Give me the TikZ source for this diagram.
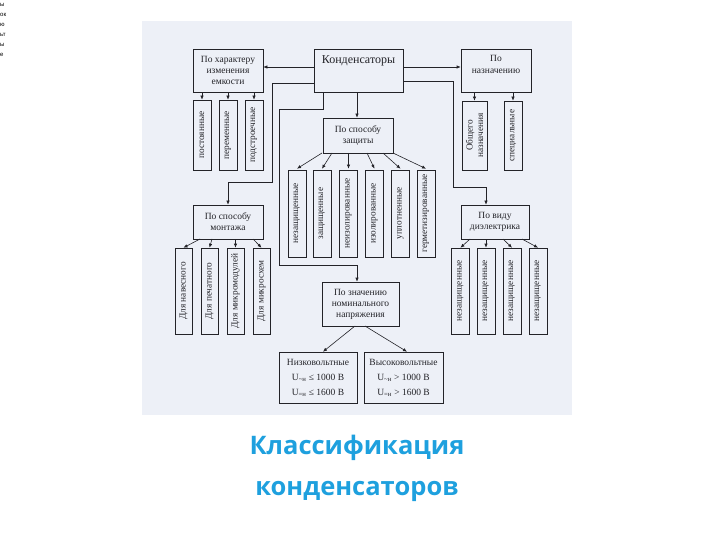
\documentclass[tikz,border=0pt]{standalone}
\usepackage{fontspec}
\setmainfont{Liberation Serif}
\newfontfamily\titlefont{Open Sans}
\newfontfamily\cornerfont{Liberation Sans}
\usetikzlibrary{arrows.meta,calc}
\definecolor{scanbg}{RGB}{237,240,247}
\definecolor{ink}{RGB}{35,35,40}
\definecolor{titleblue}{RGB}{30,160,222}
\begin{document}
\begin{tikzpicture}[x=1pt,y=-1pt,
  box/.style={draw=ink, line width=0.6pt, align=center, inner sep=1pt, font=\fontsize{9.5}{11}\selectfont, text=ink},
  vbox/.style={draw=ink, line width=0.6pt, rotate=90, align=center, inner sep=1pt, minimum height=18pt, font=\fontsize{9.3}{9.5}\selectfont, text=ink},
  arr/.style={draw=ink, line width=0.6pt, -{Latex[length=4pt,width=3.4pt]}},
  corner/.style={anchor=west, inner sep=0pt, font=\cornerfont\fontsize{6}{6}\selectfont, text=black},
  titletext/.style={anchor=base, font=\titlefont\bfseries\fontsize{25.5}{28}\selectfont, text=titleblue}]
\useasboundingbox (0,0) rectangle (720,540);
\fill[scanbg] (142,21) rectangle (572,415);

% corner fragments
\node[corner] (c1) at (0,5) {ы};
\node[corner] (c2) at (0,15) {ок};
\node[corner] (c3) at (0,25) {ю};
\node[corner] (c4) at (0,35) {ьт};
\node[corner] (c5) at (0,45) {ы};
\node[corner] (c6) at (0,55) {е};

% top row
\node[box, minimum width=89pt, minimum height=43pt] (kond) at (358.5,70.5) {};
\node[font=\fontsize{12}{14}\selectfont, text=ink] (kondt) at (358.5,61) {Конденсаторы};
\node[box, minimum width=70pt, minimum height=43pt] (har) at (228,70.5) {По характеру\\изменения\\емкости};
\node[box, minimum width=70pt, minimum height=43pt] (nazn) at (496,70.5) {};
\node[font=\fontsize{9.5}{12}\selectfont, text=ink, align=center] (naznt) at (496,64) {По\\назначению};

% capacitance children
\node[vbox, minimum width=70pt] (h1) at (202,135) {постоянные};
\node[vbox, minimum width=70pt] (h2) at (228,135) {переменные};
\node[vbox, minimum width=70pt] (h3) at (254,135) {подстроечные};

% purpose children
\node[vbox, minimum width=69pt, minimum height=25pt, font=\fontsize{9.3}{10.5}\selectfont] (n1) at (474.5,135.5) {Общего\\назначения};
\node[vbox, minimum width=69pt] (n2) at (513,135.5) {специальные};

% protection
\node[box, minimum width=70pt, minimum height=35pt] (zash) at (358,135.5) {По способу\\защиты};
\node[vbox, minimum width=87pt] (z1) at (297,213.5) {незащищенные};
\node[vbox, minimum width=87pt] (z2) at (322,213.5) {защищенные};
\node[vbox, minimum width=87pt] (z3) at (348.5,213.5) {неизолированные};
\node[vbox, minimum width=87pt] (z4) at (374.5,213.5) {изолированные};
\node[vbox, minimum width=87pt] (z5) at (400.5,213.5) {уплотненные};
\node[vbox, minimum width=87pt] (z6) at (426,213.5) {герметизированные};

% mounting
\node[box, minimum width=70pt, minimum height=34pt] (mont) at (228,222) {По способу\\монтажа};
\node[vbox, minimum width=86pt, minimum height=17pt] (m1) at (183.5,291) {Для навесного};
\node[vbox, minimum width=86pt, minimum height=17pt] (m2) at (209.5,291) {Для печатного};
\node[vbox, minimum width=86pt, minimum height=17pt] (m3) at (235.5,291) {Для микромодулей};
\node[vbox, minimum width=86pt, minimum height=17pt] (m4) at (261.5,291) {Для микросхем};

% dielectric
\node[box, minimum width=68pt, minimum height=34pt] (diel) at (495,222) {По виду\\диэлектрика};
\node[vbox, minimum width=86pt] (d1) at (460.5,291) {незащищенные};
\node[vbox, minimum width=86pt] (d2) at (486,291) {незащищенные};
\node[vbox, minimum width=86pt] (d3) at (512,291) {незащищенные};
\node[vbox, minimum width=86pt] (d4) at (538,291) {незащищенные};

% rated voltage
\node[box, minimum width=77pt, minimum height=44pt] (nom) at (360.5,304) {По значению\\номинального\\напряжения};
\node[box, minimum width=78pt, minimum height=51pt] (low) at (318,377.5) {Низковольтные\\[4pt] U\textsubscript{\textasciitilde н} ≤ 1000 В\\[4pt] U\textsubscript{=н} ≤ 1600 В};
\node[box, minimum width=79pt, minimum height=51pt] (high) at (403.5,377.5) {Высоковольтные\\[4pt] U\textsubscript{\textasciitilde н} > 1000 В\\[4pt] U\textsubscript{=н} > 1600 В};

% main connectors
\draw[arr] ([yshift=3.5pt]kond.west) -- ([yshift=3.5pt]har.east);
\draw[arr] ([yshift=3.5pt]kond.east) -- ([yshift=3.5pt]nazn.west);
\draw[arr] ([xshift=-1.5pt]kond.south) -- ([xshift=-1pt]zash.north);
\draw[arr] ([yshift=-12.5pt]kond.west) -| (272,182) -| (mont.north);
\draw[arr] ([xshift=-35.5pt]kond.south) |- (279,109) |- (357,265) -- ([xshift=-3.5pt]nom.north);
\draw[arr] ([yshift=-11pt]kond.east) -| (453,187) -| ([xshift=-9pt]diel.north);

% children arrows
\foreach \c in {h1,h2,h3} \draw[arr] (har.south -| \c.east) -- (\c.east);
\draw[arr] (nazn.south -| n1.east) -- (n1.east);
\draw[arr] (nazn.south -| n2.east) -- (n2.east);

\draw[arr] (322,153) -- ([yshift=1pt]z1.east);
\draw[arr] (332,153) -- ([yshift=1pt]z2.east);
\draw[arr] (348.5,153) -- ([yshift=1pt]z3.east);
\draw[arr] (367,153) -- ([yshift=1pt]z4.east);
\draw[arr] (383,153) -- ([yshift=1pt]z5.east);
\draw[arr] (393,153) -- ([yshift=1pt]z6.east);

\draw[arr] (200,239) -- (m1.east);
\draw[arr] (212,239) -- (m2.east);
\draw[arr] (235.5,239) -- (m3.east);
\draw[arr] (253,239) -- (m4.east);

\draw[arr] (470,239) -- (d1.east);
\draw[arr] (486,239) -- (d2.east);
\draw[arr] (503,239) -- (d3.east);
\draw[arr] (522,239) -- (d4.east);

\draw[arr] (355,326) -- ([xshift=5pt]low.north);
\draw[arr] (365,326) -- ([xshift=3.5pt]high.north);

% title
\node[titletext] (title1) at (357,454) {Классификация};
\node[titletext] (title2) at (357,495) {конденсаторов};
\end{tikzpicture}
\end{document}
